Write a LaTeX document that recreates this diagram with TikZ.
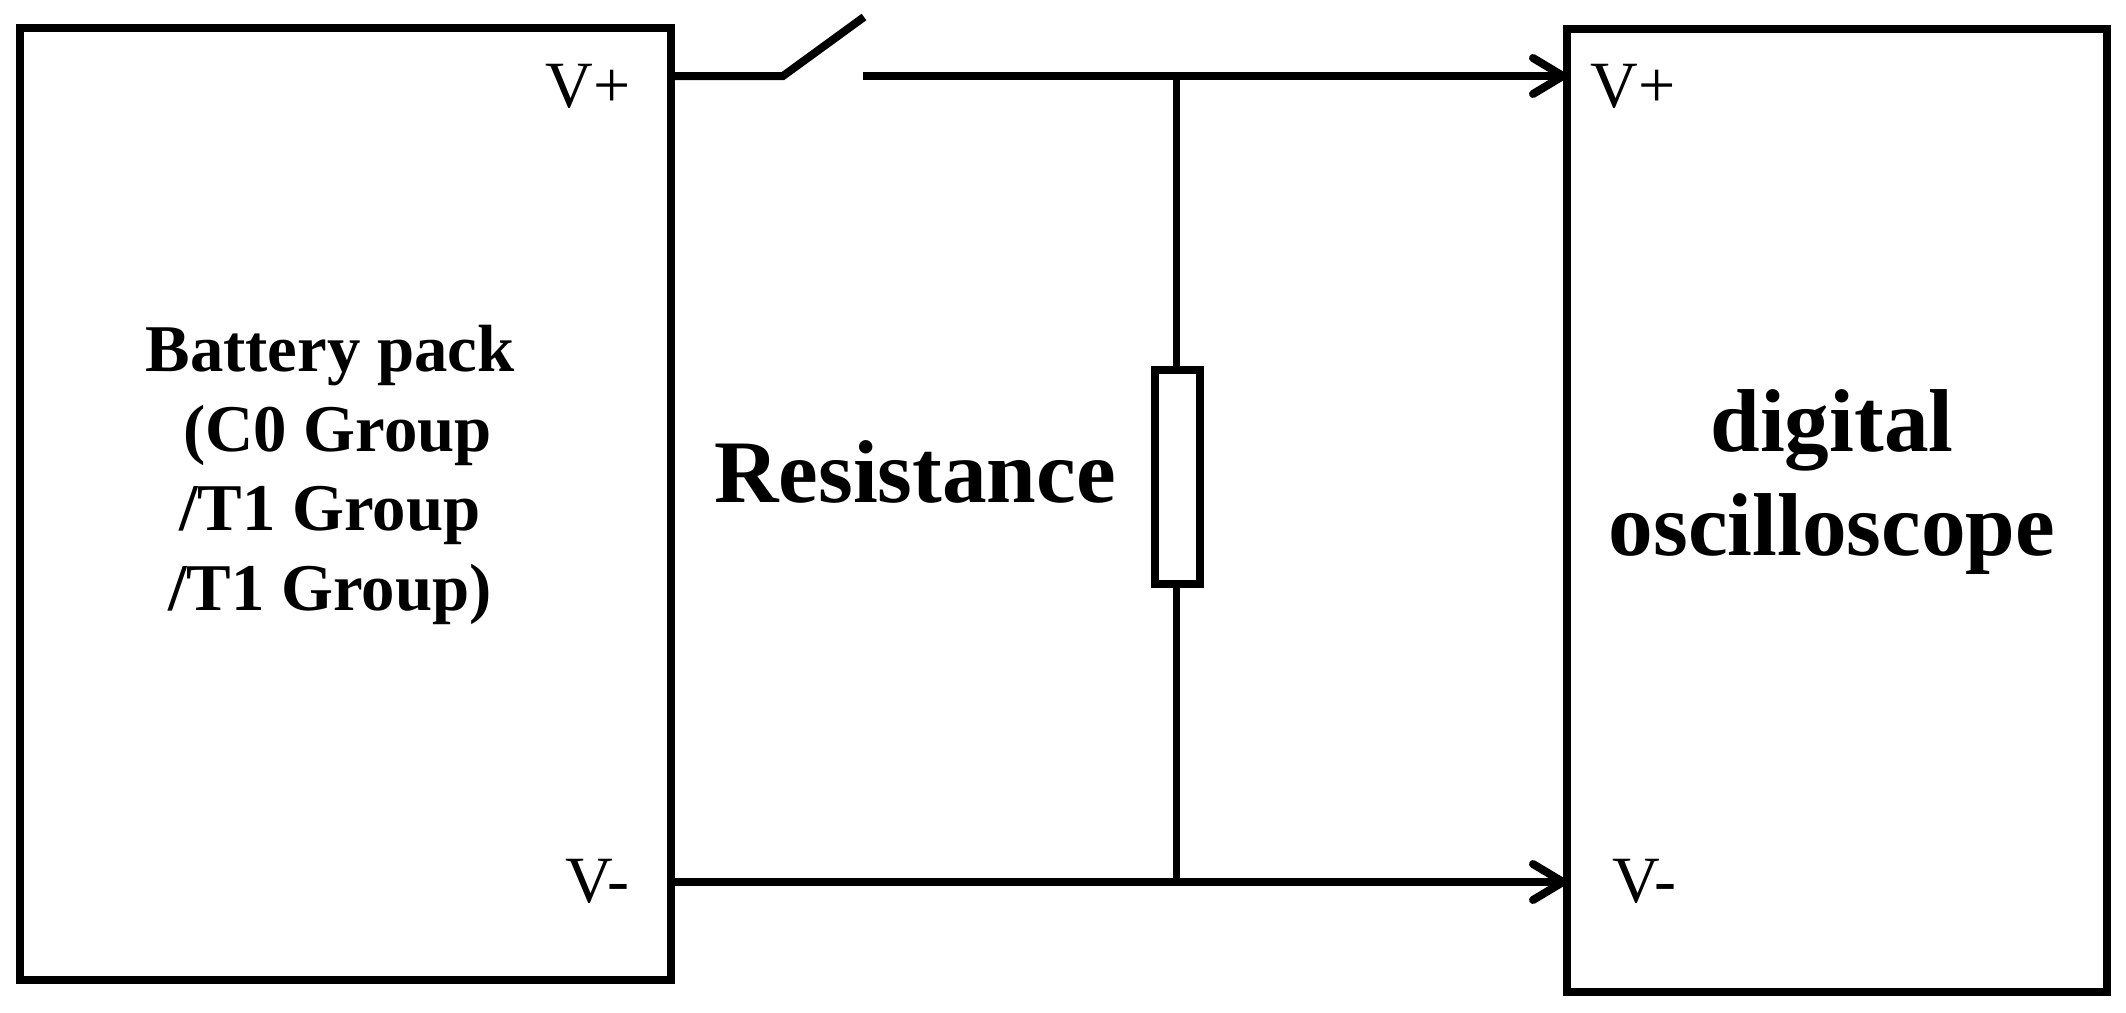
\documentclass[tikz,border=0pt]{standalone}
\usepackage{fontspec}
\setmainfont{Liberation Serif}
\usetikzlibrary{arrows.meta}
\usetikzlibrary{positioning}
\tikzset{
    unit/.style={draw, line width=0.08cm, inner sep=0pt, outer sep=0pt},
    wire/.style={line width=0.08cm},
    lead/.style={line width=0.07cm},
    probe/.style={wire, -{Straight Barb[length=0.3cm, width=0.36cm, round]}},
    port/.style={anchor=base west, inner sep=0pt, font=\fontsize{18.8pt}{23pt}\selectfont},
    smalltitle/.style={align=center, inner sep=0pt, font=\fontsize{19pt}{22.7pt}\selectfont\bfseries},
    bigtitle/.style={align=center, inner sep=0pt, font=\fontsize{25.4pt}{29.8pt}\selectfont\bfseries}
}
\begin{document}
\begin{tikzpicture}
    \useasboundingbox (0,0) rectangle (21.26,10.12);
    \node[unit, minimum width=6.51cm, minimum height=9.52cm] (battery) at (3.455,5.08) {};
    \node[unit, minimum width=5.40cm, minimum height=9.63cm] (scope) at (18.37,5.015) {};
    \node[unit, minimum width=0.45cm, minimum height=2.14cm] (resistor) at (11.77,5.35) {};

    \coordinate (switchin)  at (7.83,9.36);
    \coordinate (switchtip) at (8.64,9.95);
    \coordinate (switchout) at (8.63,9.36);
    \coordinate (top)       at (11.76,9.36);
    \coordinate (bottom)    at (11.76,1.30);

    \draw[wire] (battery.east |- switchin) -- (switchin) -- (switchtip);
    \draw[probe] (switchout) -- (scope.west |- switchout);
    \draw[probe] (battery.east |- bottom) -- (scope.west |- bottom);
    \draw[lead] (top) -- (top |- resistor.north);
    \draw[lead] (bottom) -- (bottom |- resistor.south);

    \node[port] (batteryplus)  at (5.45,9.05) {V+};
    \node[port] (batteryminus) at (5.65,1.10) {V-};
    \node[port] (scopeplus)    at (15.90,9.05) {V+};
    \node[port] (scopeminus)   at (16.12,1.10) {V-};

    \node[smalltitle] (batterytext) at (3.30,5.37) {Battery pack\\\hspace*{0.15cm}(C0 Group\\/T1 Group\\/T1 Group)};
    \node[bigtitle, anchor=base] (resistancetext) at (9.15,5.10) {Resistance};
    \node[bigtitle] (scopetext) at (18.32,5.30) {digital\\oscilloscope};
\end{tikzpicture}
\end{document}
